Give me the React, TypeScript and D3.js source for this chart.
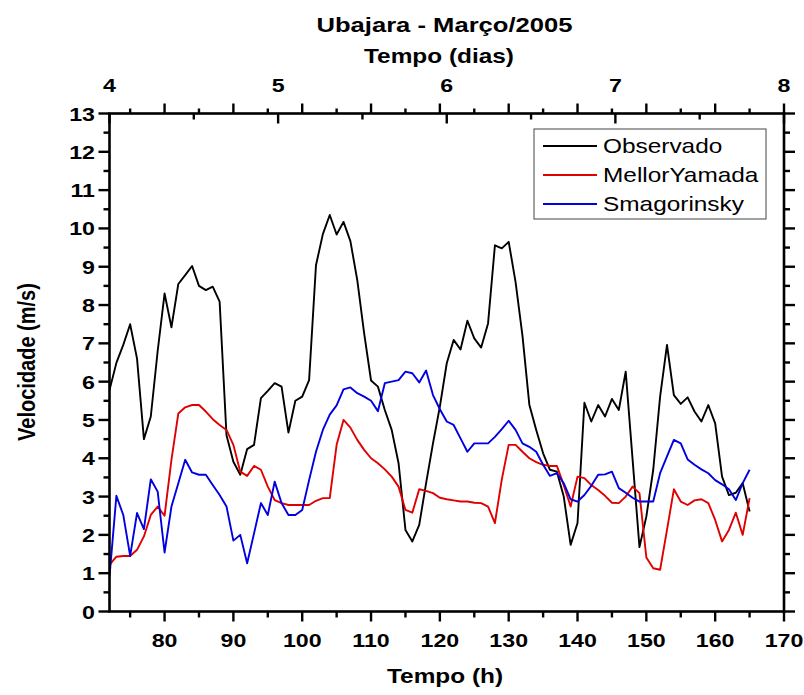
import React from "react";
import * as d3 from "d3";

const startHour = 72;

const observado = [
  5.78, 6.49, 6.96, 7.5, 6.6, 4.5, 5.09, 6.8, 8.3, 7.42,
  8.55, 8.78, 9.02, 8.5, 8.39, 8.48, 8.09, 4.6, 3.91, 3.57,
  4.24, 4.35, 5.57, 5.76, 5.96, 5.87, 4.67, 5.5, 5.61, 6.04,
  9.04, 9.85, 10.35, 9.84, 10.17, 9.67, 8.65, 7.26, 6.03, 5.87,
  5.26, 4.74, 3.87, 2.13, 1.83, 2.26, 3.35, 4.39, 5.35, 6.48,
  7.09, 6.84, 7.59, 7.13, 6.89, 7.52, 9.56, 9.48, 9.65, 8.6,
  7.2, 5.4, 4.74, 4.13, 3.7, 3.65, 3.0, 1.74, 2.31, 5.45,
  4.96, 5.39, 5.09, 5.55, 5.26, 6.26, 3.97, 1.68, 2.48, 3.7,
  5.61, 6.96, 5.65, 5.42, 5.59, 5.22, 4.96, 5.39, 4.91, 3.52,
  3.04, 3.1, 3.35, 2.61,
];

const mellorYamada = [
  1.22, 1.43, 1.45, 1.45, 1.61, 1.96, 2.52, 2.74, 2.5, 3.96,
  5.17, 5.33, 5.39, 5.39, 5.22, 5.02, 4.87, 4.74, 4.35, 3.65,
  3.54, 3.8, 3.7, 3.26, 2.91, 2.83, 2.78, 2.78, 2.78, 2.78,
  2.89, 2.96, 2.96, 4.35, 5.0, 4.8, 4.48, 4.22, 4.0, 3.87,
  3.71, 3.52, 3.26, 2.65, 2.58, 3.19, 3.15, 3.09, 2.97, 2.93,
  2.9, 2.87, 2.87, 2.84, 2.83, 2.74, 2.31, 3.45, 4.35, 4.35,
  4.17, 4.0, 3.9, 3.83, 3.8, 3.8, 3.3, 2.74, 3.52, 3.48,
  3.3, 3.17, 3.02, 2.84, 2.83, 3.0, 3.26, 3.09, 1.41, 1.13,
  1.09, 2.13, 3.19, 2.87, 2.78, 2.9, 2.93, 2.83, 2.39, 1.83,
  2.13, 2.58, 2.0, 2.96,
];

const smagorinsky = [
  0.91, 3.02, 2.52, 1.45, 2.57, 2.15, 3.45, 3.13, 1.54, 2.74,
  3.35, 3.96, 3.63, 3.57, 3.57, 3.3, 3.04, 2.74, 1.85, 2.0,
  1.26, 2.04, 2.83, 2.52, 3.39, 2.83, 2.52, 2.52, 2.65, 3.43,
  4.17, 4.74, 5.14, 5.38, 5.8, 5.85, 5.7, 5.61, 5.5, 5.23,
  5.96, 6.0, 6.04, 6.26, 6.22, 5.98, 6.29, 5.65, 5.28, 4.96,
  4.87, 4.52, 4.17, 4.39, 4.39, 4.39, 4.56, 4.76, 4.98, 4.74,
  4.39, 4.3, 4.17, 3.83, 3.54, 3.61, 3.35, 2.93, 2.87, 3.04,
  3.28, 3.57, 3.58, 3.65, 3.22, 3.1, 2.97, 2.87, 2.87, 2.87,
  3.61, 4.05, 4.48, 4.39, 3.97, 3.83, 3.71, 3.61, 3.43, 3.32,
  3.19, 2.91, 3.35, 3.7,
];

const seriesNames = ["Observado", "MellorYamada", "Smagorinsky"];
const seriesColors = ["#000000", "#e00000", "#0000e0"];
const seriesData = [observado, mellorYamada, smagorinsky];

const hourTicksMajor = [80, 90, 100, 110, 120, 130, 140, 150, 160, 170];
const hourTicksMinor = [75, 85, 95, 105, 115, 125, 135, 145, 155, 165];
const dayTicksMajor = [4, 5, 6, 7, 8];
const dayTicksMinor = [4.5, 5.5, 6.5, 7.5];
const yTicksMajor = [0, 1, 2, 3, 4, 5, 6, 7, 8, 9, 10, 11, 12, 13];
const yTicksMinor = [0.5, 1.5, 2.5, 3.5, 4.5, 5.5, 6.5, 7.5, 8.5, 9.5, 10.5, 11.5, 12.5];

const FONT = "'Liberation Sans', Arial, Helvetica, sans-serif";
const SX = 1.22;

const L = 109.5, R = 784, T = 113.5, B = 611.5;

export default function App() {
  const x = d3.scaleLinear().domain([72, 170]).range([L, R]);
  const xd = d3.scaleLinear().domain([4, 8]).range([L, R]);
  const y = d3.scaleLinear().domain([0, 13]).range([B, T]);

  const line = d3
    .line<number>()
    .x((_, i) => x(startHour + i))
    .y((d) => y(d));

  const Txt = (p: {
    x: number; y: number; text: string; size: number; anchor?: string;
    weight?: string; rotate?: number; ls?: number;
  }) => (
    <text
      transform={`translate(${p.x},${p.y}) scale(${SX},1)${p.rotate ? ` rotate(${p.rotate})` : ""}`}
      fontFamily={FONT}
      fontSize={p.size}
      fontWeight={p.weight ?? "bold"}
      textAnchor={p.anchor ?? "middle"}
      letterSpacing={p.ls ?? 0}
      fill="#000"
    >
      {p.text}
    </text>
  );

  return (
    <svg width={804} height={695} style={{ position: "absolute", left: 0, top: 0, background: "#fff" }}>
      <rect x={0} y={0} width={804} height={695} fill="#fff" />
      <defs>
        <clipPath id="clip">
          <rect x={L} y={T} width={R - L} height={B - T} />
        </clipPath>
      </defs>
      {/* data lines */}
      <g clipPath="url(#clip)">
        {seriesData.map((s, i) => (
          <path key={i} d={line(s) ?? ""} fill="none" stroke={seriesColors[i]} strokeWidth={1.9} strokeLinejoin="round" />
        ))}
      </g>

      {/* frame */}
      <rect x={L} y={T} width={R - L} height={B - T} fill="none" stroke="#000" strokeWidth={2.6} />

      {/* bottom & top hour ticks */}
      {hourTicksMajor.map((t) => (
        <g key={"hM" + t}>
          <line x1={x(t)} x2={x(t)} y1={B} y2={B + 10} stroke="#000" strokeWidth={2.4} />
          <line x1={x(t)} x2={x(t)} y1={T} y2={T - 10} stroke="#000" strokeWidth={2.4} />
          <Txt x={x(t)} y={647} text={String(t)} size={19} />
        </g>
      ))}
      {hourTicksMinor.map((t) => (
        <g key={"hm" + t}>
          <line x1={x(t)} x2={x(t)} y1={B} y2={B + 6} stroke="#000" strokeWidth={2.4} />
          <line x1={x(t)} x2={x(t)} y1={T} y2={T - 5} stroke="#000" strokeWidth={2.4} />
        </g>
      ))}
      {/* day ticks, inward */}
      {dayTicksMajor.map((t) => (
        <g key={"dM" + t}>
          <line x1={xd(t)} x2={xd(t)} y1={T} y2={T + 10} stroke="#000" strokeWidth={2.4} />
          <Txt x={xd(t)} y={92} text={String(t)} size={19} />
        </g>
      ))}
      {dayTicksMinor.map((t) => (
        <line key={"dm" + t} x1={xd(t)} x2={xd(t)} y1={T} y2={T + 6} stroke="#000" strokeWidth={2.4} />
      ))}
      {/* y ticks */}
      {yTicksMajor.map((t) => (
        <g key={"yM" + t}>
          <line x1={L} x2={L - 11} y1={y(t)} y2={y(t)} stroke="#000" strokeWidth={2.4} />
          <line x1={R} x2={R + 11} y1={y(t)} y2={y(t)} stroke="#000" strokeWidth={2.4} />
          <Txt x={95} y={y(t) + 7} text={String(t)} size={19} anchor="end" />
        </g>
      ))}
      {yTicksMinor.map((t) => (
        <g key={"ym" + t}>
          <line x1={L} x2={L - 6} y1={y(t)} y2={y(t)} stroke="#000" strokeWidth={2.4} />
          <line x1={R} x2={R + 6} y1={y(t)} y2={y(t)} stroke="#000" strokeWidth={2.4} />
        </g>
      ))}

      {/* titles */}
      <Txt x={444.5} y={32} text="Ubajara - Março/2005" size={21} />
      <Txt x={439} y={63} text="Tempo (dias)" size={20} />
      <Txt x={445} y={683} text="Tempo (h)" size={20} />
      <Txt x={35} y={362} text="Velocidade (m/s)" size={20} rotate={-90} />

      {/* legend */}
      <rect x={534} y={129} width={232} height={90} fill="#fff" stroke="#444" strokeWidth={1} />
      {seriesNames.map((n, i) => (
        <g key={n}>
          <line x1={543} x2={597} y1={146 + i * 29} y2={146 + i * 29} stroke={seriesColors[i]} strokeWidth={1.9} />
          <Txt x={603} y={146 + i * 29 + 7} text={n} size={20} anchor="start" weight="normal" />
        </g>
      ))}
    </svg>
  );
}
